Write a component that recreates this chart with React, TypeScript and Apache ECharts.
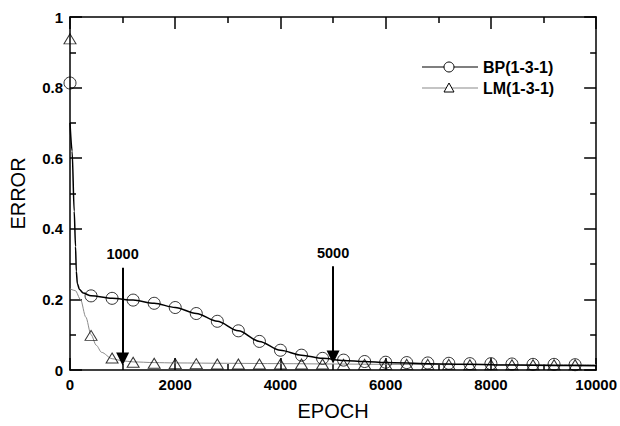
import React, { useEffect, useRef } from "react";
import * as echarts from "echarts";

// BP(1-3-1) curve (epoch, error)
const bpLineX = [0, 40, 80, 105, 120, 140, 180, 250, 400, 800, 1200, 1600, 2000, 2400, 2800, 3200, 3600, 4000, 4400, 4800, 5200, 5600, 6000, 6800, 7600, 8400, 9200, 10000];
const bpLineY = [0.70, 0.62, 0.45, 0.35, 0.28, 0.245, 0.228, 0.218, 0.21, 0.203, 0.198, 0.189, 0.177, 0.16, 0.138, 0.111, 0.081, 0.056, 0.042, 0.033, 0.027, 0.024, 0.021, 0.018, 0.016, 0.014, 0.013, 0.012];

// LM(1-3-1) curve
const lmLineX = [0, 100, 200, 300, 400, 500, 600, 800, 1000, 1200, 1600, 2000, 3000, 4000, 5000, 6000, 8000, 10000];
const lmLineY = [0.23, 0.225, 0.2, 0.15, 0.10, 0.07, 0.05, 0.032, 0.026, 0.023, 0.021, 0.02, 0.019, 0.018, 0.017, 0.016, 0.015, 0.015];

// Marker epochs
const markerX = [0, 400, 800, 1200, 1600, 2000, 2400, 2800, 3200, 3600, 4000, 4400, 4800, 5200, 5600, 6000, 6400, 6800, 7200, 7600, 8000, 8400, 8800, 9200, 9600];
const bpMarkY = [0.813, 0.21, 0.203, 0.198, 0.189, 0.177, 0.16, 0.138, 0.111, 0.081, 0.056, 0.042, 0.033, 0.028, 0.024, 0.022, 0.021, 0.02, 0.019, 0.018, 0.018, 0.017, 0.016, 0.016, 0.015];
const lmMarkY = [0.938, 0.098, 0.034, 0.022, 0.019, 0.018, 0.018, 0.017, 0.017, 0.017, 0.017, 0.017, 0.017, 0.016, 0.016, 0.016, 0.016, 0.016, 0.016, 0.015, 0.015, 0.015, 0.015, 0.015, 0.015];

// Arrow annotations
const arrowEpochs = [1000, 5000];
const arrowTop = [0.29, 0.294];
const arrowTip = [0.031, 0.037];

const seriesNames = ["BP(1-3-1)", "LM(1-3-1)"];
const xLabel = "EPOCH";
const yLabel = "ERROR";

const FONT = "Arial, 'Liberation Sans', sans-serif";

export default function App() {
  const ref = useRef<HTMLDivElement>(null);
  useEffect(() => {
    if (!ref.current) return;
    const chart = echarts.init(ref.current, undefined, { renderer: "svg" });
    const zip = (xs: number[], ys: number[]) => xs.map((x, i) => [x, ys[i]]);
    const axisLine = { show: true, onZero: false, lineStyle: { color: "#000", width: 1.5 } };
    const tick = { show: true, inside: true, length: 12, lineStyle: { color: "#000", width: 1.5 } };
    const minorTick = { show: true, splitNumber: 2, length: 6, lineStyle: { color: "#000", width: 1.5 } };
    const labelStyle = { color: "#000", fontSize: 15, fontWeight: "bold" as const, fontFamily: FONT };
    chart.setOption({
      animation: false,
      backgroundColor: "#fff",
      grid: { left: 69, right: 22, top: 17, bottom: 55, containLabel: false },
      xAxis: [
        {
          type: "value", min: 0, max: 10000, interval: 2000, position: "bottom",
          axisLine, axisTick: tick, minorTick, splitLine: { show: false },
          axisLabel: { ...labelStyle, margin: 7, formatter: (v: number) => String(v) },
          name: xLabel, nameLocation: "middle", nameGap: 31,
          nameTextStyle: { color: "#000", fontSize: 20, fontFamily: FONT },
        },
        {
          type: "value", min: 0, max: 10000, interval: 2000, position: "top",
          axisLine, axisTick: tick, minorTick, splitLine: { show: false },
          axisLabel: { show: false },
        },
      ],
      yAxis: [
        {
          type: "value", min: 0, max: 1, interval: 0.2, position: "left",
          axisLine, axisTick: tick, minorTick, splitLine: { show: false },
          axisLabel: { ...labelStyle, margin: 7, formatter: (v: number) => String(Math.round(v * 10) / 10) },
          name: yLabel, nameLocation: "middle", nameGap: 42,
          nameTextStyle: { color: "#000", fontSize: 20, fontFamily: FONT },
        },
        {
          type: "value", min: 0, max: 1, interval: 0.2, position: "right",
          axisLine, axisTick: tick, minorTick, splitLine: { show: false },
          axisLabel: { show: false },
        },
      ],
      series: [
        {
          name: seriesNames[1], type: "line", data: zip(lmLineX, lmLineY),
          smooth: 0.3, smoothMonotone: "x", showSymbol: false, symbol: "none",
          lineStyle: { color: "#8a8a8a", width: 1 }, silent: true, z: 2,
        },
        {
          name: seriesNames[0], type: "line", data: zip(bpLineX, bpLineY),
          smooth: 0.3, smoothMonotone: "x", showSymbol: false, symbol: "none",
          lineStyle: { color: "#000", width: 1.5 }, silent: true, z: 3,
          markLine: {
            silent: true, symbol: ["none", "triangle"], symbolSize: [13, 13],
            lineStyle: { color: "#000", width: 2, type: "solid" },
            label: { show: true, position: "start", distance: 6, formatter: "{b}", ...labelStyle, fontSize: 14.5 },
            data: arrowEpochs.map((e, i) => [
              { name: String(e), coord: [e, arrowTop[i]] },
              { coord: [e, arrowTip[i]] },
            ]),
          },
        },
        {
          type: "scatter", data: zip(markerX, lmMarkY), symbol: "triangle", symbolSize: [12, 10],
          itemStyle: { color: "transparent", borderColor: "#000", borderWidth: 1 }, silent: true, z: 4,
        },
        {
          type: "scatter", data: zip(markerX, bpMarkY), symbol: "circle", symbolSize: 12,
          itemStyle: { color: "transparent", borderColor: "#000", borderWidth: 1 }, silent: true, z: 5,
        },
      ],
      graphic: [
        { type: "line", shape: { x1: 422, y1: 67, x2: 478, y2: 67 }, style: { stroke: "#000", lineWidth: 1.2 } },
        { type: "circle", shape: { cx: 449, cy: 67, r: 5 }, style: { fill: "#fff", stroke: "#000", lineWidth: 1 } },
        { type: "text", x: 483, y: 67, style: { text: seriesNames[0], fill: "#000", font: `bold 16px ${FONT}`, verticalAlign: "middle" } },
        { type: "line", shape: { x1: 422, y1: 88, x2: 478, y2: 88 }, style: { stroke: "#8a8a8a", lineWidth: 1.2 } },
        { type: "polygon", shape: { points: [[449, 83], [454, 92], [444, 92]] }, style: { fill: "#fff", stroke: "#000", lineWidth: 1 } },
        { type: "text", x: 483, y: 88, style: { text: seriesNames[1], fill: "#000", font: `bold 16px ${FONT}`, verticalAlign: "middle" } },
      ],
    });
    return () => chart.dispose();
  }, []);
  return <div ref={ref} style={{ width: 620, height: 426, position: "absolute", left: 0, top: 0 }} />;
}
